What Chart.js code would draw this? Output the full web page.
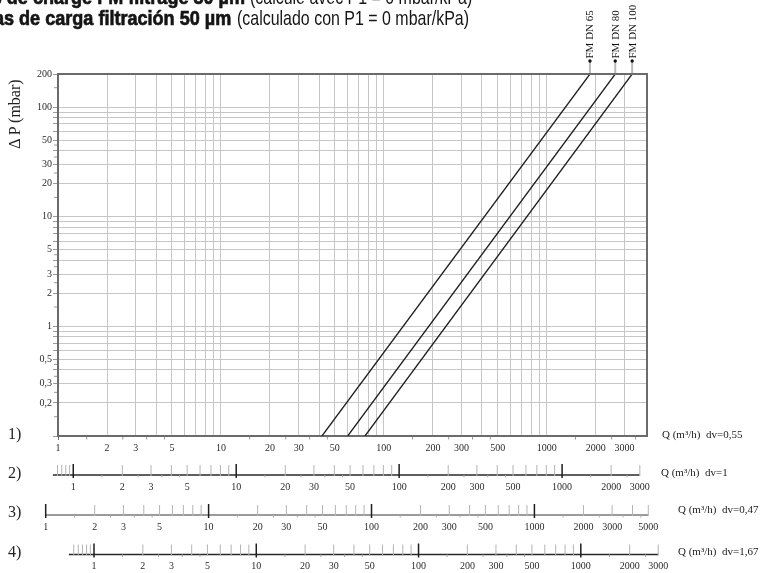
<!DOCTYPE html>
<html>
<head>
<meta charset="utf-8">
<script src="https://cdn.jsdelivr.net/npm/chart.js@4.4.1/dist/chart.umd.min.js"></script>
<style>
  body { margin: 0; background: #fff; }
  #wrap { position: relative; width: 773px; height: 573px; overflow: hidden; }
  #wrap canvas { position: absolute; left: 0; top: 0; }
  .t { position: absolute; white-space: nowrap; font-family: "Liberation Sans", Arial, sans-serif; font-size: 21px; line-height: 21px; color: #151515; }
  .b { font-weight: bold; -webkit-text-stroke: 0.7px #151515; transform-origin: right center; transform: scaleX(0.86); }
  .r { transform-origin: left center; transform: scaleX(0.76); }
  .s { position: absolute; white-space: nowrap; font-family: "Liberation Serif", "DejaVu Serif", serif; color: #222; }
  .row { font-size: 16px; line-height: 16px; left: 8px; }
  .q { font-size: 11px; line-height: 11px; }
</style>
</head>
<body>
<div id="wrap">
  <canvas id="chart" width="773" height="573"></canvas>
  <div class="t b" style="right:528px; top:-14px">Pertes de charge FM filtrage 50 µm</div>
  <div class="t r" style="left:250px; top:-14px">(calculé avec P1 = 0 mbar/kPa)</div>
  <div class="t b" style="right:542px; top:7px">Pérdidas de carga filtración 50 µm</div>
  <div class="t r" style="left:237px; top:7px">(calculado con P1 = 0 mbar/kPa)</div>
  <div class="s" style="left:-25px; top:105px; width:80px; text-align:center; font-size:16px; line-height:18px; transform:rotate(-90deg);">Δ P (mbar)</div>
  <div class="s row" style="top:426px">1)</div>
  <div class="s row" style="top:465px">2)</div>
  <div class="s row" style="top:504px">3)</div>
  <div class="s row" style="top:544px">4)</div>
  <div class="s q" style="left:662px; top:429px">Q (m³/h)&nbsp; dv=0,55</div>
  <div class="s q" style="left:661px; top:467px">Q (m³/h)&nbsp; dv=1</div>
  <div class="s q" style="left:678px; top:504px">Q (m³/h)&nbsp; dv=0,47</div>
  <div class="s q" style="left:678px; top:546px">Q (m³/h)&nbsp; dv=1,67</div>
</div>
<script>
// pressure drop lines: Q (m3/h, dv=0,55) at the two ends
const seriesNames = ['FM DN 65', 'FM DN 80', 'FM DN 100'];
const dpEnds = [0.1, 200];
const qDN65 = [41.7, 1840];
const qDN80 = [60, 2630];
const qDN100 = [76.6, 3340];

// main axes
const xGrid = [1, 2, 3, 4, 5, 6, 7, 8, 9, 10, 20, 30, 40, 50, 60, 70, 80, 90,
  100, 200, 300, 400, 500, 600, 700, 800, 900, 1000, 2000, 3000];
const xLabels = [1, 2, 3, 5, 10, 20, 30, 50, 100, 200, 300, 500, 1000, 2000, 3000];
const yGrid = [0.1, 0.2, 0.3, 0.4, 0.5, 0.6, 0.7, 0.8, 0.9, 1, 2, 3, 4, 5, 6, 7, 8, 9,
  10, 20, 30, 40, 50, 60, 70, 80, 90, 100, 200];
const yLabels = [0.2, 0.3, 0.5, 1, 2, 3, 5, 10, 20, 30, 50, 100, 200];
const minorSteps = [1.5, 2.5, 3.5, 4.5];

// extra Q scales 2) 3) 4) (other dv)
const rowMin = [0.806, 1.19, 0.621];
const rowMax = [3320, 4910, 2558];
const rowFrom = [0.75, 1, 0.7];
const rowTo = [3000, 5000, 3000];
const rowLead = [[0.8, 0.85, 0.9, 0.95], [], [0.75, 0.8, 0.85, 0.9, 0.95]];
const rowLabels = [
  [1, 2, 3, 5, 10, 20, 30, 50, 100, 200, 300, 500, 1000, 2000, 3000],
  [1, 2, 3, 5, 10, 20, 30, 50, 100, 200, 300, 500, 1000, 2000, 3000, 5000],
  [1, 2, 3, 5, 10, 20, 30, 50, 100, 200, 300, 500, 1000, 2000, 3000]
];

const seriesQ = [qDN65, qDN80, qDN100];
const serif = '"Liberation Serif", "DejaVu Serif", serif';
const rowLineY = [475, 515, 554.5];
const rowLineColor = ['#2a2a2a', '#7a7a7a', '#2a2a2a'];

function vline(ctx, x, y1, y2) {
  ctx.beginPath();
  ctx.moveTo(x, y1);
  ctx.lineTo(x, y2);
  ctx.stroke();
}

function drawRow(ctx, sc, i) {
  const y = rowLineY[i];
  const from = rowFrom[i], to = rowTo[i];
  const inRange = v => v >= from * 0.999 && v <= to * 1.001;

  ctx.strokeStyle = rowLineColor[i];
  ctx.lineWidth = 1.5;
  ctx.beginPath();
  ctx.moveTo(sc.getPixelForValue(from), y);
  ctx.lineTo(sc.getPixelForValue(to), y);
  ctx.stroke();

  ctx.strokeStyle = '#b4b4b4';
  ctx.lineWidth = 1;
  rowLead[i].forEach(v => vline(ctx, sc.getPixelForValue(v), y - 10, y + 1));

  for (let k = 0; k <= 3; k++) {
    for (let m = 1; m <= 9; m++) {
      const v = m * Math.pow(10, k);
      if (!inRange(v)) continue;
      const px = sc.getPixelForValue(v);
      if (m === 1) {
        ctx.strokeStyle = '#1e1e1e';
        ctx.lineWidth = 1.5;
        vline(ctx, px, y - 11, y + 3);
      } else {
        ctx.strokeStyle = '#b4b4b4';
        ctx.lineWidth = 1;
        vline(ctx, px, y - 10, y + 1);
      }
    }
    minorSteps.forEach(m => {
      const v = m * Math.pow(10, k);
      if (!inRange(v)) return;
      ctx.strokeStyle = '#aaaaaa';
      ctx.lineWidth = 1;
      vline(ctx, sc.getPixelForValue(v), y, y + 2.5);
    });
  }

  ctx.fillStyle = '#2b2b2b';
  ctx.font = '10px ' + serif;
  ctx.textAlign = 'center';
  ctx.textBaseline = 'middle';
  rowLabels[i].forEach(v => ctx.fillText(String(v), sc.getPixelForValue(v), y + 12));
}

const extras = {
  id: 'extras',
  afterDraw(chart) {
    const ctx = chart.ctx;
    const { left, right, top, bottom } = chart.chartArea;
    const xs = chart.scales.x, ys = chart.scales.y;
    ctx.save();

    // frame top and right
    ctx.strokeStyle = '#6b6b6b';
    ctx.lineWidth = 2;
    ctx.beginPath();
    ctx.moveTo(left - 1, top);
    ctx.lineTo(right, top);
    ctx.lineTo(right, bottom);
    ctx.stroke();

    // minor ticks on main axes
    ctx.strokeStyle = '#999';
    ctx.lineWidth = 1;
    for (let k = -1; k <= 3; k++) {
      minorSteps.forEach(m => {
        const v = m * Math.pow(10, k);
        if (v > 0.1 && v < 200) {
          const py = ys.getPixelForValue(v);
          ctx.beginPath(); ctx.moveTo(left - 4, py); ctx.lineTo(left - 1, py); ctx.stroke();
        }
        if (v > 1 && v < xs.max) vline(ctx, xs.getPixelForValue(v), bottom + 1, bottom + 3.5);
      });
    }

    // series names at the upper ends
    chart.data.datasets.forEach((ds, i) => {
      const pts = chart.getDatasetMeta(i).data;
      const p = pts[pts.length - 1];
      ctx.strokeStyle = '#b8b8b8';
      ctx.lineWidth = 2;
      vline(ctx, p.x, top - 1, 62);
      ctx.fillStyle = '#111';
      ctx.beginPath();
      ctx.arc(p.x, 61, 1.7, 0, Math.PI * 2);
      ctx.fill();
      ctx.save();
      ctx.translate(p.x, 58.5);
      ctx.rotate(-Math.PI / 2);
      ctx.font = '11px ' + serif;
      ctx.textAlign = 'left';
      ctx.textBaseline = 'middle';
      ctx.fillText(ds.label, 0, 0.5);
      ctx.restore();
    });

    ['x2', 'x3', 'x4'].forEach((id, i) => drawRow(ctx, chart.scales[id], i));
    ctx.restore();
  }
};

new Chart(document.getElementById('chart'), {
  type: 'line',
  data: {
    datasets: seriesNames.map((name, i) => ({
      label: name,
      data: dpEnds.map((p, j) => ({ x: seriesQ[i][j], y: p })),
      borderColor: '#1e1e1e',
      borderWidth: 1.3,
      pointRadius: 0,
      fill: false,
      tension: 0
    }))
  },
  options: {
    responsive: false,
    animation: false,
    layout: { padding: { left: 0, top: 74, right: 126, bottom: 117 } },
    plugins: { legend: { display: false }, tooltip: { enabled: false } },
    scales: {
      x: {
        type: 'logarithmic',
        min: 1,
        max: 4120,
        afterBuildTicks: ax => { ax.ticks = xGrid.map(v => ({ value: v })); },
        afterFit: ax => { ax.height = 20; },
        ticks: {
          autoSkip: false,
          maxRotation: 0,
          padding: 2,
          color: '#2b2b2b',
          font: { family: serif, size: 10 },
          callback: v => xLabels.includes(v) ? String(v) : ''
        },
        grid: {
          color: '#c6c6c6',
          lineWidth: 1,
          tickLength: 4,
          tickColor: c => (c.tick && c.tick.value === 1) ? '#6b6b6b' : 'rgba(0,0,0,0)'
        },
        border: { color: '#6b6b6b', width: 2 }
      },
      y: {
        type: 'logarithmic',
        min: 0.1,
        max: 200,
        afterBuildTicks: ax => { ax.ticks = yGrid.map(v => ({ value: v })); },
        afterFit: ax => { ax.width = 58; },
        ticks: {
          autoSkip: false,
          padding: 1,
          color: '#2b2b2b',
          font: { family: serif, size: 10 },
          callback: v => yLabels.includes(v) ? String(v).replace('.', ',') : ''
        },
        grid: { color: '#c6c6c6', lineWidth: 1, tickLength: 5, tickColor: '#9a9a9a' },
        border: { color: '#6b6b6b', width: 2 }
      },
      x2: { type: 'logarithmic', display: false, min: rowMin[0], max: rowMax[0] },
      x3: { type: 'logarithmic', display: false, min: rowMin[1], max: rowMax[1] },
      x4: { type: 'logarithmic', display: false, min: rowMin[2], max: rowMax[2] }
    }
  },
  plugins: [extras]
});
</script>
</body>
</html>
